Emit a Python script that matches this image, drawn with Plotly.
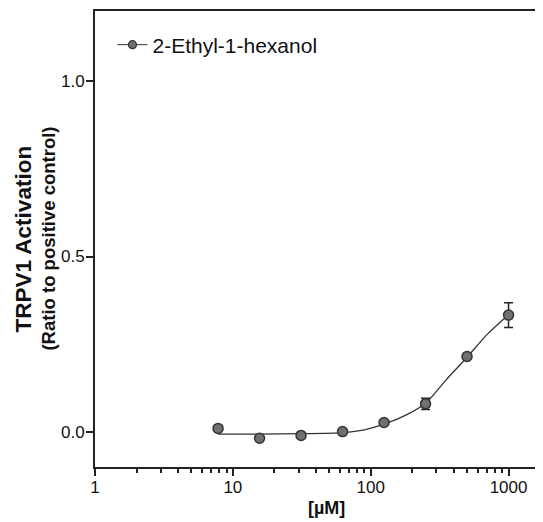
import plotly.graph_objects as go

# ---- data ----
conc = [7.8125, 15.625, 31.25, 62.5, 125, 250, 500, 1000]
activation = [0.010, -0.018, -0.010, 0.001, 0.027, 0.080, 0.215, 0.333]
sem = [0.004, 0.004, 0.004, 0.004, 0.004, 0.016, 0.006, 0.035]

curve_x = [7.8125, 15.625, 31.25, 62.5, 90, 125, 180, 250, 350, 500, 700, 1000]
curve_y = [-0.006, -0.006, -0.005, -0.002, 0.006, 0.022, 0.048, 0.082, 0.147, 0.213, 0.278, 0.334]

series_name = "2-Ethyl-1-hexanol"
x_tickvals = [1, 10, 100, 1000]
x_ticktext = ["1", "10", "100", "1000"]
y_tickvals = [0.0, 0.5, 1.0]
y_ticktext = ["0.0", "0.5", "1.0"]

FONT = "Arial, 'Liberation Sans', Helvetica, sans-serif"
DARK = "#222222"
MARK = "#707070"

# page body has an 8px margin -> compensate so the plot area sits at
# x 94.5..543, y 11..467 in the browser window
OFF = 8
L, T, R, B = 94.5 - OFF, 11 - OFF, OFF, 522 - (467 - OFF)
PW, PH = 543 - L - R, 522 - T - B

def px_x(wx):
    return (wx - OFF - L) / PW

def px_y(wy):
    return 1 - (wy - OFF - T) / PH

fig = go.Figure()

# fitted curve
fig.add_trace(go.Scatter(
    x=curve_x, y=curve_y, mode="lines",
    line=dict(color="#333333", width=1.3, shape="spline", smoothing=0.8),
    showlegend=False, hoverinfo="skip"))

# data points with error bars
fig.add_trace(go.Scatter(
    x=conc, y=activation, mode="markers",
    marker=dict(size=10, color=MARK, line=dict(color="#333333", width=1.5)),
    error_y=dict(type="data", array=sem, visible=True, color=DARK,
                 thickness=1.5, width=4.5),
    showlegend=False))

# legend entry (line + marker)
fig.add_trace(go.Scatter(
    x=[None], y=[None], mode="lines+markers", name=series_name,
    marker=dict(size=8, color=MARK, line=dict(color="#333333", width=1.2)),
    line=dict(color="#333333", width=1)))

fig.update_layout(
    width=543, height=522,
    margin=dict(l=L, r=R, t=T, b=B, autoexpand=False),
    paper_bgcolor="white", plot_bgcolor="white",
    font=dict(family=FONT, size=16.5, color="#111111"),
    showlegend=True,
    legend=dict(x=px_x(112), y=px_y(45), xanchor="left", yanchor="middle",
                bgcolor="rgba(0,0,0,0)", font=dict(size=21, family=FONT, color="#111111"),
                tracegroupgap=0),
    xaxis=dict(
        type="log", range=[0, 3.25],
        showline=True, linecolor=DARK, linewidth=2, mirror=True,
        ticks="outside", ticklen=7, tickwidth=2, tickcolor=DARK,
        tickvals=x_tickvals, ticktext=x_ticktext, ticklabelstandoff=-3,
        minor=dict(ticks="outside", ticklen=4, tickwidth=1.5, tickcolor=DARK, dtick="D1"),
        showgrid=False, zeroline=False,
        tickfont=dict(size=17, family=FONT, color="#111111"),
    ),
    yaxis=dict(
        range=[-0.1, 1.2],
        showline=True, linecolor=DARK, linewidth=2,
        ticks="outside", ticklen=7, tickwidth=1.5, tickcolor=DARK,
        tickvals=y_tickvals, ticktext=y_ticktext, ticklabelstandoff=-2,
        showgrid=False, zeroline=False,
        tickfont=dict(size=17, family=FONT, color="#111111"),
    ),
)

# axis titles
fig.add_annotation(text="<b>TRPV1 Activation</b>", xref="paper", yref="paper",
                   x=px_x(22), y=px_y(239), xanchor="center", yanchor="middle",
                   textangle=-90, showarrow=False,
                   font=dict(size=22.5, family=FONT, color="#111111"))
fig.add_annotation(text="<b>(Ratio to positive control)</b>", xref="paper", yref="paper",
                   x=px_x(47), y=px_y(239), xanchor="center", yanchor="middle",
                   textangle=-90, showarrow=False,
                   font=dict(size=18.5, family=FONT, color="#111111"))
fig.add_annotation(text="<b>[µM]</b>", xref="paper", yref="paper",
                   x=px_x(326), y=px_y(508), xanchor="center",
                   yanchor="middle", showarrow=False,
                   font=dict(size=18, family=FONT, color="#111111"))

fig.write_html("out.html")
